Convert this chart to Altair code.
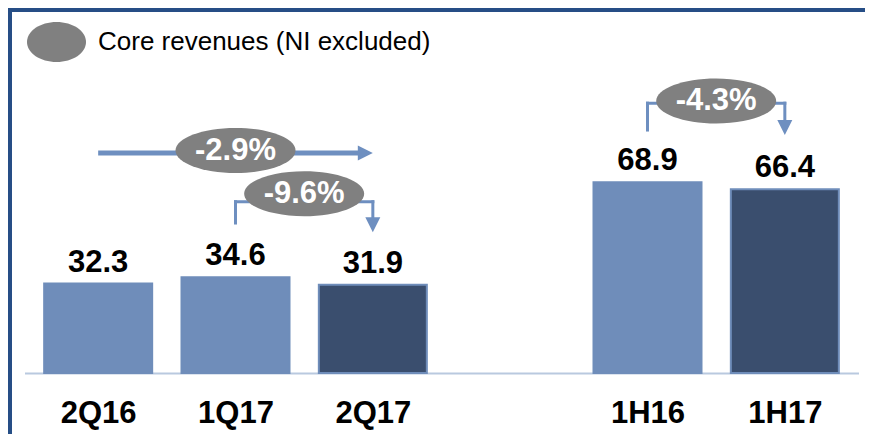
import altair as alt
import pandas as pd

# ---------------- data ----------------
slots = ["2Q16", "1Q17", "2Q17", "", "1H16", "1H17"]      # x slots ("" = gap)
periods = ["2Q16", "1Q17", "2Q17", "1H16", "1H17"]
revenues = [32.3, 34.6, 31.9, 68.9, 66.4]
is_current = [False, False, True, False, True]

change_labels = ["-2.9%", "-9.6%", "-4.3%"]
change_from = ["2Q16", "1Q17", "1H16"]
change_to = ["2Q17", "2Q17", "1H17"]
change_style = ["straight", "elbow", "elbow"]
connector_level = [79.5, 61.9, 97.5]
stem_bottom = [None, 54.2, 87.8]
arrow_tip = [None, 50.9, 86.0]
bubble_level = [80.4, 64.8, 98.3]

legend_label = "Core revenues (NI excluded)"

# ---------------- styles ----------------
FONT = "Liberation Sans"
LIGHT = "#6F8DBA"
DARK = "#3A4E6E"
LINE = "#6E8FC0"
GREY = "#808080"
FRAME = "#264E86"
BASE = "#B9C9DF"
ELLIPSE = "M -1 0 A 1 0.375 0 1 1 1 0 A 1 0.375 0 1 1 -1 0 Z"
LEGEND_ELLIPSE = "M -1 0 A 1 0.678 0 1 1 1 0 A 1 0.678 0 1 1 -1 0 Z"
DOWN = "M -1 -1 L 1 -1 L 0 1 Z"
RIGHT = "M -1 -1 L 1 0 L -1 1 Z"

pos = {c: i for i, c in enumerate(slots) if c}

bars_df = pd.DataFrame({
    "period": periods,
    "pos": [pos[p] for p in periods],
    "value": revenues,
    "current": is_current,
})

ann = pd.DataFrame({
    "label": change_labels,
    "x": [pos[c] for c in change_from],
    "x2": [pos[c] for c in change_to],
    "style": change_style,
    "level": connector_level,
    "bottom": stem_bottom,
    "tip": arrow_tip,
    "bubble": bubble_level,
})
ann["mid"] = (ann["x"] + ann["x2"]) / 2
ann["series"] = legend_label
straight_df = ann[ann["style"] == "straight"]
elbow_df = ann[ann["style"] == "elbow"]

x_scale = alt.Scale(domain=[-0.5, 5.5], nice=False, zero=False)
y_scale = alt.Scale(domain=[0, 131.9], nice=False, zero=True)

label_expr = "[" + ",".join("'%s'" % s for s in slots) + "][datum.value]"

x_axis = alt.Axis(
    values=[pos[p] for p in periods], labelExpr=label_expr, title=None,
    ticks=False, tickSize=0, grid=False, domainColor=BASE, domainWidth=2,
    labelFont=FONT, labelFontSize=31, labelFontWeight="bold", labelColor="black",
    labelPadding=25, labelAngle=0, labelFlush=False, labelOverlap=False,
)


def X(field):
    return alt.X(field, type="quantitative", scale=x_scale, axis=x_axis)


def Y(field):
    return alt.Y(field, type="quantitative", scale=y_scale, axis=None)


bars = alt.Chart(bars_df).mark_bar(size=108, stroke=LIGHT, strokeWidth=2).encode(
    x=X("pos"),
    y=Y("value"),
    fill=alt.when("datum.current").then(alt.value(DARK)).otherwise(alt.value(LIGHT)),
)

value_text = alt.Chart(bars_df).mark_text(
    font=FONT, fontSize=31, fontWeight="bold", color="black",
    baseline="alphabetic", align="center", dy=-12,
).encode(
    x=X("pos"),
    y=Y("value"),
    text=alt.Text("value:Q", format=".1f"),
)

straight = alt.Chart(straight_df).mark_rule(color=LINE, strokeWidth=5, x2Offset=-14).encode(
    x=X("x"), x2="x2:Q", y=Y("level"),
)
arrow_right = alt.Chart(straight_df).mark_point(
    shape=RIGHT, size=225, filled=True, opacity=1, color=LINE, strokeWidth=0, xOffset=-7.5,
).encode(x=X("x2"), y=Y("level"))

elbow_h = alt.Chart(elbow_df).mark_rule(color=LINE, strokeWidth=3, strokeCap="square").encode(
    x=X("x"), x2="x2:Q", y=Y("level"),
)
stems = alt.Chart(elbow_df).mark_rule(color=LINE, strokeWidth=3, strokeCap="square").encode(
    x=X("x"), y=Y("bottom"), y2="level:Q",
)
drops = alt.Chart(elbow_df).mark_rule(color=LINE, strokeWidth=3, strokeCap="square", y2Offset=-14).encode(
    x=X("x2"), y=Y("level"), y2="tip:Q",
)
arrow_down = alt.Chart(elbow_df).mark_point(
    shape=DOWN, size=225, filled=True, opacity=1, color=LINE, strokeWidth=0, yOffset=-7.5,
).encode(x=X("x2"), y=Y("tip"))

bubbles = alt.Chart(ann).mark_point(
    shape=ELLIPSE, size=14400, filled=True, opacity=1, strokeWidth=0,
).encode(
    x=X("mid"),
    y=Y("bubble"),
    color=alt.Color(
        "series:N",
        scale=alt.Scale(domain=[legend_label], range=[GREY]),
        legend=alt.Legend(
            orient="none", legendX=2.5, legendY=4.5, title=None,
            symbolType=LEGEND_ELLIPSE, symbolSize=3481, symbolStrokeWidth=0,
            symbolOpacity=1, labelFont=FONT, labelFontSize=26, labelColor="black",
            labelOffset=12, labelLimit=600, padding=0, rowPadding=0,
        ),
    ),
)
bubble_text = alt.Chart(ann).mark_text(
    font=FONT, fontSize=31, fontWeight="bold", color="white",
    baseline="middle", align="center",
).encode(x=X("mid"), y=Y("bubble"), text="label:N")

frame_df = pd.DataFrame({"k": [0]})
frame_left = alt.Chart(frame_df).mark_rect(color=FRAME, strokeWidth=0).encode(
    x=alt.value(-16.5), x2=alt.value(-12.5), y=alt.value(0), y2=alt.value(426),
)
frame_top = alt.Chart(frame_df).mark_rect(color=FRAME, strokeWidth=0).encode(
    x=alt.value(-16.5), x2=alt.value(840.5), y=alt.value(0), y2=alt.value(4),
)

chart = alt.layer(
    frame_left, frame_top, bars, value_text,
    straight, arrow_right, elbow_h, stems, drops, arrow_down,
    bubbles, bubble_text,
).properties(
    width=834, height=365,
    autosize=alt.AutoSizeParams(type="none"),
    padding={"left": 16.5, "top": 0, "right": 6.5, "bottom": 61},
    background="white",
).configure_view(stroke=None)

chart.save("out.html", embed_options={"renderer": "svg", "actions": False})
